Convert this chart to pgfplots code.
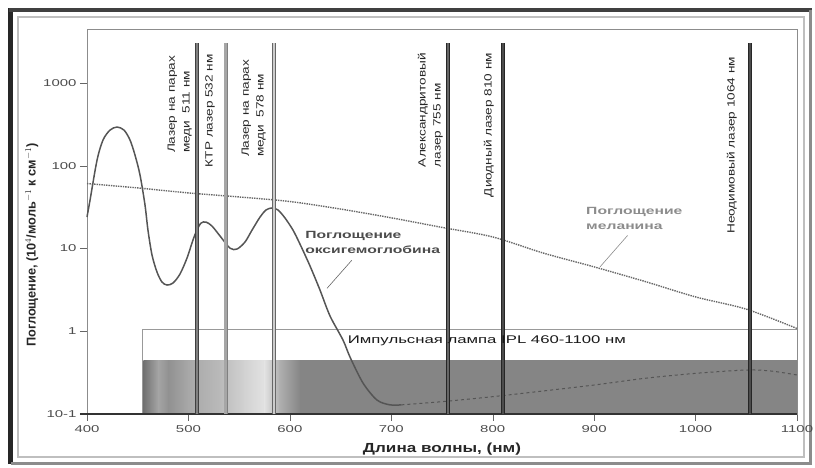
\documentclass[border=0pt]{standalone}
\usepackage{fontspec}
\setmainfont{Liberation Sans}
\newfontfamily\lab[FakeStretch=1.3]{Liberation Sans}
\newfontfamily\labw[FakeStretch=1.5]{Liberation Sans}
\usepackage{pgfplots}
\pgfplotsset{compat=1.18}
\definecolor{hem}{HTML}{555555}
\definecolor{mel}{HTML}{666666}
\definecolor{band}{HTML}{858585}
\begin{document}
\begin{tikzpicture}
\useasboundingbox (-87bp,-54bp) rectangle (728bp,414bp);
% outer frame
\draw[black!85, line width=5bp] (-76bp,-50bp) -- (-76bp,406bp);
\draw[black!75, line width=3.5bp] (-78bp,404bp) -- (725bp,404bp);
\draw[black!45, line width=3bp] (723bp,404bp) -- (723bp,-49bp) -- (-76bp,-49bp);
\draw[black!25, line width=2bp] (-69bp,-43bp) rectangle (717bp,397bp);
\begin{axis}[
  scale only axis, width=710bp, height=385bp,
  xmin=400, xmax=1100, ymode=log, ymin=0.1, ymax=4500,
  clip=false,
  axis line style={draw=black!45, line width=0.8bp},
  xtick={400,500,600,700,800,900,1000,1100},
  xticklabels={400,500,600,700,800,900,1000,1100},
  ytick={0.1,1,10,100,1000},
  yticklabels={10-1,1,10,100,1000},
  yminorticks=false,
  xtick pos=bottom, ytick pos=left,
  tick align=outside,
  major tick length=7bp,
  xtick style={draw=black!60},
  ytick style={draw=black!60},
  tick label style={font=\labw\fontsize{10}{11}\selectfont, text=black!70},
  xticklabel style={yshift=-1bp},
  xlabel={Длина волны, (нм)},
  xlabel style={font=\lab\bfseries\fontsize{13.2}{14}\selectfont, text=black!85, at={(axis description cs:0.5,-0.0909)}, anchor=center},
  ylabel={Поглощение, (10$^{4}$/моль$^{-1}$ к см$^{-1}$)},
  ylabel style={font=\bfseries\fontsize{12.8}{14}\selectfont, text=black!85, at={(axis description cs:-0.0777,0.439)}, anchor=center},
]
% IPL lamp outline
\addplot[black!40, line width=1bp, no marks] coordinates {(455,0.1)(455,1.06)(1100,1.06)};
% IPL gradient band
\addplot[draw=none, left color={rgb,255:red,112;green,112;blue,112}, right color={rgb,255:red,136;green,136;blue,136}] coordinates {(455.5,0.1)(455.5,0.449)(462.5,0.449)(462.5,0.1)} -- cycle;
\addplot[draw=none, left color={rgb,255:red,136;green,136;blue,136}, right color={rgb,255:red,165;green,165;blue,165}] coordinates {(462,0.1)(462,0.449)(470.5,0.449)(470.5,0.1)} -- cycle;
\addplot[draw=none, left color={rgb,255:red,165;green,165;blue,165}, right color={rgb,255:red,145;green,145;blue,145}] coordinates {(470,0.1)(470,0.449)(480.5,0.449)(480.5,0.1)} -- cycle;
\addplot[draw=none, left color={rgb,255:red,145;green,145;blue,145}, right color={rgb,255:red,168;green,168;blue,168}] coordinates {(480,0.1)(480,0.449)(500.5,0.449)(500.5,0.1)} -- cycle;
\addplot[draw=none, left color={rgb,255:red,168;green,168;blue,168}, right color={rgb,255:red,185;green,185;blue,185}] coordinates {(500,0.1)(500,0.449)(530.5,0.449)(530.5,0.1)} -- cycle;
\addplot[draw=none, left color={rgb,255:red,185;green,185;blue,185}, right color={rgb,255:red,210;green,210;blue,210}] coordinates {(530,0.1)(530,0.449)(555.5,0.449)(555.5,0.1)} -- cycle;
\addplot[draw=none, left color={rgb,255:red,210;green,210;blue,210}, right color={rgb,255:red,226;green,226;blue,226}] coordinates {(555,0.1)(555,0.449)(575.5,0.449)(575.5,0.1)} -- cycle;
\addplot[draw=none, left color={rgb,255:red,226;green,226;blue,226}, right color={rgb,255:red,175;green,175;blue,175}] coordinates {(575,0.1)(575,0.449)(590.5,0.449)(590.5,0.1)} -- cycle;
\addplot[draw=none, left color={rgb,255:red,175;green,175;blue,175}, right color={rgb,255:red,133;green,133;blue,133}] coordinates {(590,0.1)(590,0.449)(610.5,0.449)(610.5,0.1)} -- cycle;
\addplot[draw=none, fill=band] coordinates {(610,0.1)(610,0.449)(1100,0.449)(1100,0.1)} -- cycle;
% bottom axis line darker
\draw[black!80, line width=1.6bp] (rel axis cs:-0.01,0) -- (rel axis cs:1,0);
% melanin (dotted)
\addplot[mel, line width=1.4bp, densely dotted, smooth, no marks] coordinates {
(400,61)(450,54)(500,47)(550,42)(600,37)(650,30)(700,23.5)(750,18)(800,13.8)(850,8.8)(900,6.0)(950,4.0)(1000,2.6)(1050,1.85)(1100,1.08)};
% oxyhemoglobin
\addplot[hem, line width=1.5bp, smooth, no marks] coordinates {
(400,24.0)(403,38.5)(409.9,117)(415.8,205)(422.7,270)(429.6,294)(436.5,270)(442.4,205)(447.3,135)(452.3,77)(457.2,33.5)(460.1,16.7)(464.1,8.34)(469,5.2)(473.9,3.94)(478.9,3.62)(484.8,3.83)(491.7,4.92)(498.6,7.67)(504.5,12.7)(508.4,16.7)(512.4,20.3)(517.3,20.9)(523.2,18.7)(531.1,14.2)(541,10.1)(547.9,9.86)(555.8,12.0)(562.7,16.7)(570.6,24.0)(576.5,29.2)(582.4,30.9)(588.3,29.2)(595.2,23.4)(603.1,16.7)(610,11.3)(619.9,6.14)(629.7,3.15)(639.6,1.53)(652.4,0.783)(659.3,0.488)(672.1,0.237)(685.9,0.1475)(698.7,0.129)(710,0.129)};
\addplot[hem, line width=1bp, dashed, smooth, no marks] coordinates {
(710,0.129)(750,0.141)(800,0.162)(850,0.19)(900,0.224)(950,0.27)(1000,0.31)(1050,0.34)(1075,0.33)(1100,0.296)};
% laser lines
\addplot[draw=black!75, double=black!50, double distance=2.2bp, line width=0.9bp, no marks] coordinates {(508.4,0.1)(508.4,3050)};
\addplot[draw=black!50, double=black!35, double distance=3bp, line width=0.8bp, no marks] coordinates {(537,0.1)(537,3050)};
\addplot[draw=black!60, double=black!20, double distance=2.4bp, line width=0.9bp, no marks] coordinates {(584.4,0.1)(584.4,3050)};
\addplot[draw=black!85, double=black!60, double distance=1.6bp, line width=0.9bp, no marks] coordinates {(755.9,0.1)(755.9,3050)};
\addplot[draw=black!85, double=black!70, double distance=2.4bp, line width=1bp, no marks] coordinates {(810.1,0.1)(810.1,3050)};
\addplot[draw=black!85, double=black!70, double distance=2.4bp, line width=1bp, no marks] coordinates {(1053.6,0.1)(1053.6,3050)};
% laser labels
\begin{scope}[every node/.style={rotate=90, anchor=south west, inner sep=0pt, align=left, font=\lab\fontsize{10.5}{15}\selectfont, text=black!85}]
\node at (axis cs:503.5,142) {Лазер на парах\\меди \ 511 нм};
\node at (axis cs:526.2,96) {КТР лазер 532 нм};
\node at (axis cs:576.5,127) {Лазер на парах\\меди \ 578 нм};
\node at (axis cs:751,96) {Александритовый\\лазер 755 нм};
\node at (axis cs:801.3,41.6) {Диодный лазер 810 нм};
\node at (axis cs:1040.8,15) {Неодимовый лазер 1064 нм};
\end{scope}
% IPL text
\node[anchor=west, inner sep=0pt, font=\labw\fontsize{11.2}{12}\selectfont, text=black!90] at (axis cs:657,0.76) {Импульсная лампа IPL 460-1100 нм};
% annotations
\node[anchor=west, inner sep=0pt, align=left, font=\labw\bfseries\fontsize{10.5}{15}\selectfont, text=black!70] at (axis cs:615,11.8) {Поглощение\\оксигемоглобина};
\addplot[black!60, line width=0.6bp, no marks] coordinates {(661,7.2)(636.6,3.3)};
\node[anchor=west, inner sep=0pt, align=left, font=\labw\bfseries\fontsize{10.5}{15}\selectfont, text=black!45] at (axis cs:892,23) {Поглощение\\меланина};
\addplot[black!45, line width=0.6bp, no marks] coordinates {(933,14.4)(905.8,6.0)};
\end{axis}
\end{tikzpicture}
\end{document}
